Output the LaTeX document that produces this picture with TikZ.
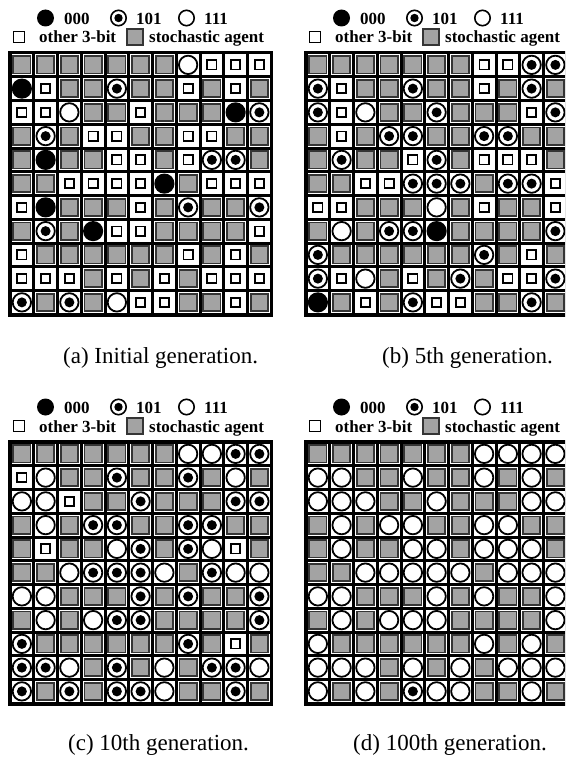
\documentclass[tikz,border=0pt]{standalone}
\usepackage{fontspec}
\setmainfont{Liberation Serif}
\definecolor{agentgrey}{HTML}{A3A3A3}
\definecolor{agentedge}{HTML}{353535}
\tikzset{
  symG/.style={fill=agentgrey, draw=agentedge, line width=1.8pt},
  syms/.style={fill=white, draw=black, line width=1.8pt},
  symO/.style={fill=white, draw=black, line width=1.8pt},
  symF/.style={fill=black},
  legendtext/.style={font=\fontsize{17}{20}\selectfont\bfseries, anchor=base west, inner sep=0pt},
  captiontext/.style={font=\fontsize{23}{26}\selectfont, anchor=base west, inner sep=0pt},
}
\newcommand\drawsym[3]{%
  \if#1G\draw[symG] (#2-8.6,#3-8.6) rectangle (#2+8.6,#3+8.6);\fi
  \if#1s\draw[syms] (#2-4.6,#3-4.6) rectangle (#2+4.6,#3+4.6);\fi
  \if#1O\draw[symO] (#2,#3) circle[radius=9.2pt];\fi
  \if#1D\draw[symO] (#2,#3) circle[radius=9.2pt];\fill (#2,#3) circle[radius=5pt];\fi
  \if#1F\fill[symF] (#2,#3) circle[radius=10.1pt];\fi
}
\newcommand\drawgrid[3]{%
  \fill[black] (#1-2,#2-2) rectangle (#1+263.25,#2+263.5);
  \foreach \rowdata [count=\i] in {#3} {
    \foreach \celltype [count=\j] in \rowdata {
      \pgfmathsetmacro\cx{#1+(\j-0.5)*23.75}
      \pgfmathsetmacro\cy{#2+(\i-0.5)*23.75}
      \fill[white] (\cx-10.375,\cy-10.375) rectangle (\cx+10.375,\cy+10.375);
      \drawsym{\celltype}{\cx}{\cy}
    }
  }
}
\newcommand\drawlegend[3]{%
  \fill (#1+45.5,#2+18) circle[radius=8.5pt];
  \node[legendtext] (l000#3) at (#1+64,#2+24.5) {000};
  \draw[line width=1.6pt] (#1+118.5,#2+18) circle[radius=7.7pt];
  \fill (#1+118.5,#2+18) circle[radius=4.2pt];
  \node[legendtext] (l101#3) at (#1+136,#2+24.5) {101};
  \draw[line width=1.6pt] (#1+186.5,#2+18) circle[radius=7.7pt];
  \node[legendtext] (l111#3) at (#1+204,#2+24.5) {111};
  \draw[line width=1.6pt] (#1+13.5,#2+31.5) rectangle (#1+24.5,#2+42.5);
  \node[legendtext] (lother#3) at (#1+39,#2+43) {other 3-bit};
  \draw[fill=agentgrey,draw=agentedge,line width=1.6pt] (#1+127,#2+29) rectangle (#1+143,#2+45);
  \node[legendtext] (lstoch#3) at (#1+149,#2+43) {stochastic agent};
}
\begin{document}
\begin{tikzpicture}[x=1pt,y=-1pt]
\useasboundingbox (0,0) rectangle (565,760);
\clip (0,0) rectangle (565,760);
\fill[white] (0,0) rectangle (565,760);
% legends
\drawlegend{0}{0}{a}
\drawlegend{296}{0}{b}
\drawlegend{0}{389}{c}
\drawlegend{296}{389}{d}
% grid (a)
\drawgrid{10}{53}{%
{G,G,G,G,G,G,G,O,s,s,s},
{F,s,G,G,D,G,G,s,G,s,G},
{s,s,O,G,G,s,G,G,G,F,D},
{G,D,G,s,s,G,G,s,s,G,G},
{G,F,G,G,s,s,G,s,D,D,G},
{G,G,s,s,s,s,F,G,s,s,s},
{s,F,G,G,G,s,G,D,G,G,D},
{G,D,G,F,s,s,G,G,G,G,s},
{s,G,G,G,G,G,G,s,G,s,G},
{s,s,s,G,s,G,s,G,s,s,s},
{D,G,D,G,O,s,s,G,G,s,G}}
% grid (b)
\drawgrid{306}{53}{%
{G,G,G,G,G,G,G,s,s,D,D},
{D,s,G,G,D,G,G,s,G,D,G},
{D,s,O,G,G,D,G,G,G,s,D},
{G,s,G,D,D,G,G,D,D,G,G},
{G,D,G,G,s,D,G,s,s,s,G},
{G,G,s,s,D,D,D,G,D,D,s},
{s,s,G,G,G,O,G,s,G,G,s},
{G,O,G,D,D,F,G,G,G,G,D},
{D,G,G,G,G,G,G,D,G,s,G},
{D,s,O,G,s,G,D,G,s,s,D},
{F,G,s,G,D,s,s,G,G,D,G}}
% grid (c)
\drawgrid{10}{442}{%
{G,G,G,G,G,G,G,O,O,D,D},
{s,O,G,G,D,G,G,D,G,O,G},
{O,O,s,G,G,D,G,G,G,D,D},
{G,O,G,D,D,G,G,D,D,G,G},
{G,s,G,G,O,D,G,D,O,s,G},
{G,G,O,D,D,D,O,G,D,O,O},
{O,O,G,G,G,D,G,D,G,G,D},
{G,O,G,O,D,D,G,G,G,G,D},
{D,G,G,G,G,G,G,D,G,s,G},
{D,D,O,G,D,G,O,G,D,D,O},
{D,G,D,G,D,D,O,G,G,D,G}}
% grid (d)
\drawgrid{306}{442}{%
{G,G,G,G,G,G,G,O,O,O,O},
{O,O,G,G,O,G,G,O,G,O,G},
{O,O,O,G,G,O,G,G,G,O,O},
{G,O,G,O,O,G,G,O,O,G,G},
{G,O,G,G,O,O,G,O,O,O,G},
{G,G,O,O,O,O,O,G,O,O,O},
{O,O,G,G,G,O,G,O,G,G,O},
{G,O,G,O,O,O,G,G,G,G,O},
{O,G,G,G,G,G,G,O,G,O,G},
{O,O,O,G,O,G,O,G,O,O,O},
{O,G,O,G,D,O,O,G,G,O,G}}
% captions
\node[captiontext] (capa) at (63,363) {(a) Initial generation.};
\node[captiontext] (capb) at (382,363) {(b) 5th generation.};
\node[captiontext] (capc) at (68,750) {(c) 10th generation.};
\node[captiontext] (capd) at (353,750) {(d) 100th generation.};
\end{tikzpicture}
\end{document}
